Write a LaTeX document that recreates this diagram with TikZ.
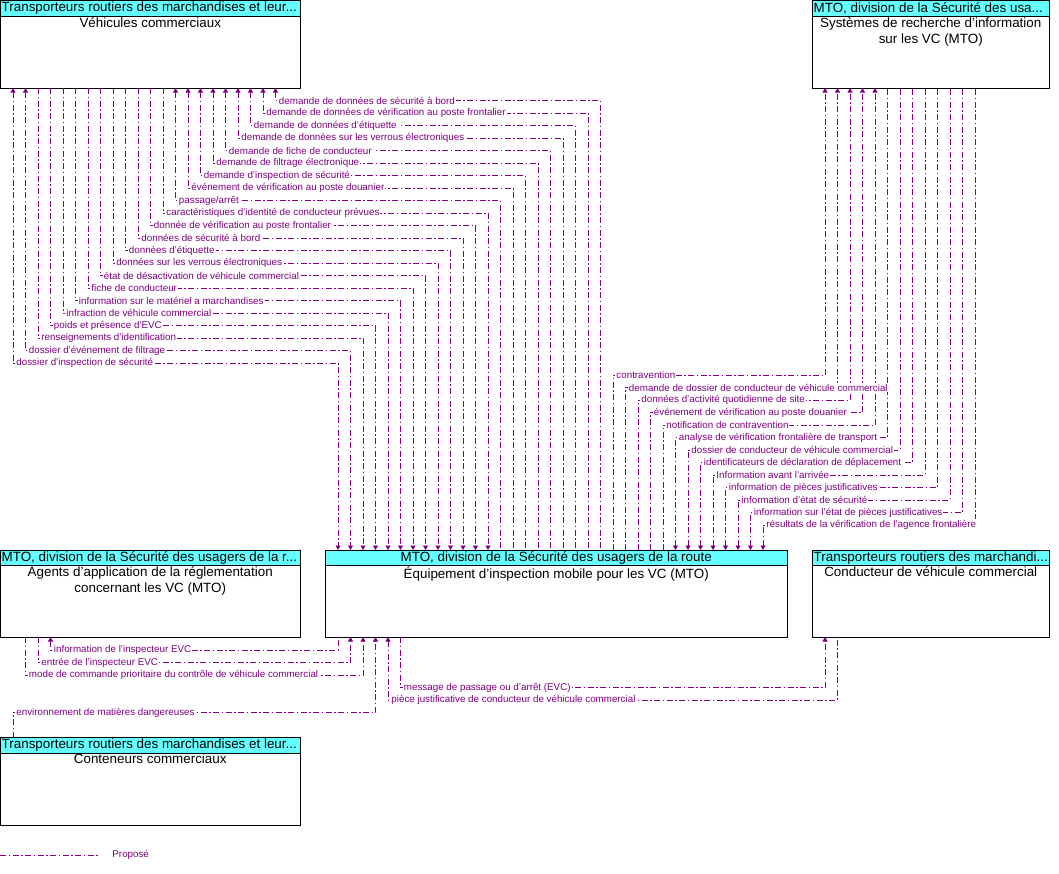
\documentclass[tikz,border=0pt]{standalone}
\usepackage{fontspec}
\setmainfont{Liberation Sans}
\usetikzlibrary{arrows.meta,calc}

\definecolor{flowpurple}{HTML}{800080}
\definecolor{headcyan}{HTML}{66FFFF}

\begin{document}
\begin{tikzpicture}[x=1pt,y=-1pt,>={Triangle[width=5pt,length=4.5pt]},
    box/.style={draw,line width=1pt,anchor=north west,inner sep=0pt,outer sep=0pt},
    head/.style={box,fill=headcyan,minimum height=15.5pt},
    headtext/.style={anchor=west,inner sep=1pt,font=\fontsize{13.4}{15}\selectfont},
    bodytext/.style={anchor=north,inner sep=0pt,align=center,font=\fontsize{13.4}{16}\selectfont},
    flow/.style={draw=flowpurple,line width=0.9pt,dash pattern=on 6pt off 2.5pt on 1.5pt off 2.5pt},
    flowlabel/.style={anchor=west,fill=white,inner sep=1pt,xshift=2pt,text=flowpurple,font=\fontsize{9.8}{11}\selectfont},
    fwd/.style={->}, bwd/.style={<-}, both/.style={<->}]

    \useasboundingbox (0,0) rectangle (1059,873);

    \node[box,minimum width=299.5pt,minimum height=87.5pt] (vc) at (0.5,0.5) {};
    \node[head,minimum width=299.5pt] (vchead) at (vc.north west) {};
    \node[headtext] at (vchead.west) {Transporteurs routiers des marchandises et leur...};
    \node[bodytext] at ($(vchead.south)+(0,1)$) {Véhicules commerciaux};

    \node[box,minimum width=236.5pt,minimum height=87.5pt] (sr) at (812.5,0.5) {};
    \node[head,minimum width=236.5pt] (srhead) at (sr.north west) {};
    \node[headtext] at (srhead.west) {MTO, division de la Sécurité des usa...};
    \node[bodytext] at ($(srhead.south)+(0,1)$) {Systèmes de recherche d’information\\sur les VC (MTO)};

    \node[box,minimum width=299.5pt,minimum height=87pt] (ag) at (0.5,550) {};
    \node[head,minimum width=299.5pt] (aghead) at (ag.north west) {};
    \node[headtext] at (aghead.west) {MTO, division de la Sécurité des usagers de la r...};
    \node[bodytext] at ($(aghead.south)+(0,1)$) {Agents d’application de la réglementation\\concernant les VC (MTO)};

    \node[box,minimum width=461.5pt,minimum height=87pt] (eq) at (325.5,550) {};
    \node[head,minimum width=461.5pt] (eqhead) at (eq.north west) {};
    \node[headtext,anchor=center] at (eqhead) {MTO, division de la Sécurité des usagers de la route};
    \node[bodytext] at ($(eqhead.south)+(0,1)$) {Équipement d’inspection mobile pour les VC (MTO)};

    \node[box,minimum width=236.5pt,minimum height=87pt] (cd) at (812.5,550) {};
    \node[head,minimum width=236.5pt] (cdhead) at (cd.north west) {};
    \node[headtext] at (cdhead.west) {Transporteurs routiers des marchandi...};
    \node[bodytext] at ($(cdhead.south)+(0,1)$) {Conducteur de véhicule commercial};

    \node[box,minimum width=299.5pt,minimum height=87.5pt] (cc) at (0.5,737.5) {};
    \node[head,minimum width=299.5pt] (cchead) at (cc.north west) {};
    \node[headtext] at (cchead.west) {Transporteurs routiers des marchandises et leur...};
    \node[bodytext] at ($(cchead.south)+(0,1)$) {Conteneurs commerciaux};

    \foreach \i/\txt/\dir [evaluate=\i as \yh using 375.5-12.5*\i] in {
        1/dossier d'inspection de sécurité/both,
        2/dossier d'événement de filtrage/both,
        3/renseignements d'identification/fwd,
        4/poids et présence d'EVC/fwd,
        5/infraction de véhicule commercial/fwd,
        6/information sur le matériel a marchandises/fwd,
        7/fiche de conducteur/fwd,
        8/état de désactivation de véhicule commercial/fwd,
        9/données sur les verrous électroniques/fwd,
        10/données d'étiquette/fwd,
        11/données de sécurité à bord/fwd,
        12/donnée de vérification au poste frontalier/fwd,
        13/caractéristiques d'identité de conducteur prévues/fwd,
        14/{passage/arrêt}/bwd,
        15/événement de vérification au poste douanier/bwd,
        16/demande d'inspection de sécurité/bwd,
        17/demande de filtrage électronique/bwd,
        18/demande de fiche de conducteur/bwd,
        19/demande de données sur les verrous électroniques/bwd,
        20/demande de données d'étiquette/bwd,
        21/demande de données de vérification au poste frontalier/bwd,
        22/demande de données de sécurité à bord/bwd}
        \draw[flow,\dir] ($(vc.south west)+(12.5*\i,0)$) coordinate (a) -- (a |- 0,\yh)
            node[flowlabel] {\txt} -| ($(eq.north west)+(12.5*\i,0)$);

    \foreach \j/\txt/\dir [evaluate=\j as \yh using 362.5+12.5*\j] in {
        13/résultats de la vérification de l'agence frontalière/bwd,
        12/information sur l'état de pièces justificatives/bwd,
        11/information d'état de sécurité/bwd,
        10/information de pièces justificatives/bwd,
        9/Information avant l'arrivée/bwd,
        8/identificateurs de déclaration de déplacement/bwd,
        7/dossier de conducteur de véhicule commercial/bwd,
        6/analyse de vérification frontalière de transport/bwd,
        5/notification de contravention/fwd,
        4/événement de vérification au poste douanier/fwd,
        3/données d'activité quotidienne de site/fwd,
        2/demande de dossier de conducteur de véhicule commercial/fwd,
        1/contravention/fwd}
        \draw[flow,\dir] ($(eq.north west)+(275+12.5*\j,0)$) coordinate (a) -- (a |- 0,\yh)
            node[flowlabel] {\txt} -| ($(sr.south west)+(12.5*\j,0)$);

    \draw[flow,bwd] ($(ag.south west)+(50,0)$) coordinate (a) -- (a |- 0,650)
        node[flowlabel] {information de l'inspecteur EVC} -| ($(eq.south west)+(12.5,0)$);
    \draw[flow,fwd] ($(ag.south west)+(37.5,0)$) coordinate (a) -- (a |- 0,662.5)
        node[flowlabel] {entrée de l'inspecteur EVC} -| ($(eq.south west)+(25,0)$);
    \draw[flow,fwd] ($(ag.south west)+(25,0)$) coordinate (a) -- (a |- 0,675)
        node[flowlabel] {mode de commande prioritaire du contrôle de véhicule commercial} -| ($(eq.south west)+(37.5,0)$);
    \draw[flow,fwd] ($(cc.north west)+(12.5,0)$) coordinate (a) -- (a |- 0,712.5)
        node[flowlabel] {environnement de matières dangereuses} -| ($(eq.south west)+(50,0)$);
    \draw[flow,bwd] ($(eq.south west)+(62.5,0)$) coordinate (a) -- (a |- 0,700)
        node[flowlabel] {pièce justificative de conducteur de véhicule commercial} -| ($(cd.south west)+(25,0)$);
    \draw[flow,fwd] ($(eq.south west)+(75,0)$) coordinate (a) -- (a |- 0,687.5)
        node[flowlabel] {message de passage ou d'arrêt (EVC)} -| ($(cd.south west)+(12.5,0)$);

    \coordinate (legend) at (0,855);
    \draw[flow] (legend) -- ++(100,0) node[flowlabel,fill=none,xshift=9pt] {Proposé};

\end{tikzpicture}
\end{document}
